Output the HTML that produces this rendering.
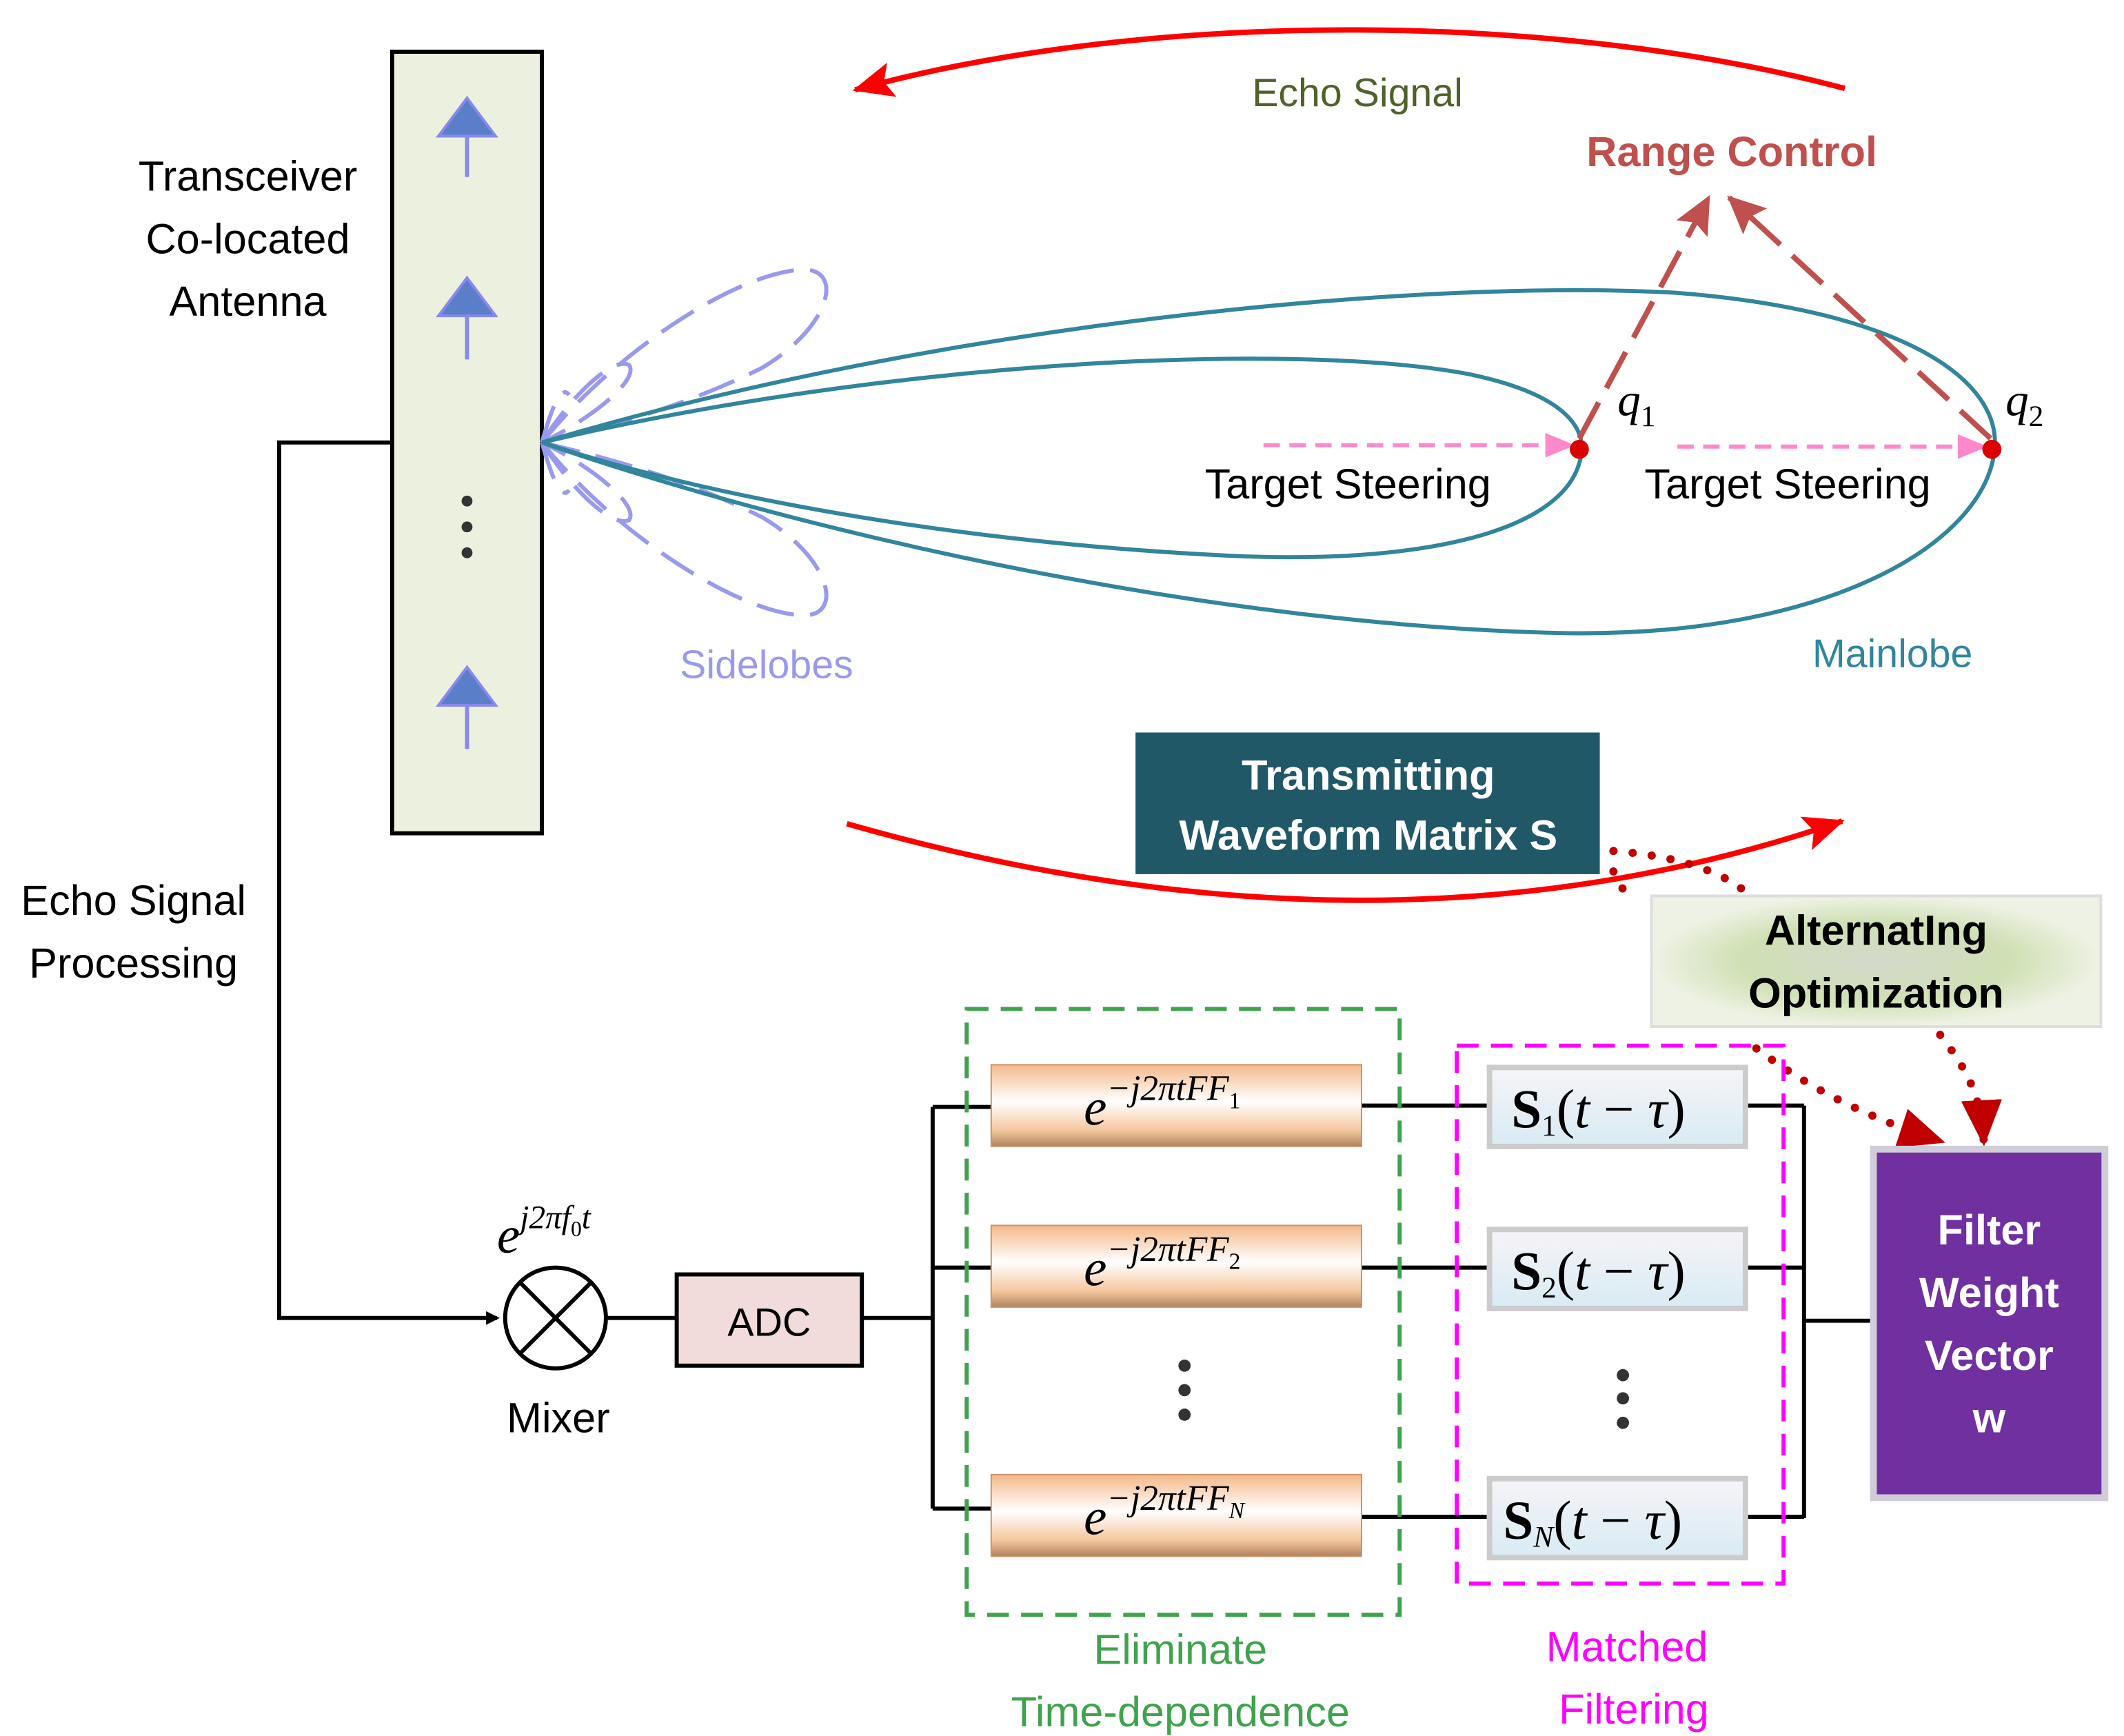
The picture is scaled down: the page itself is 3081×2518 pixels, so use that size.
<!DOCTYPE html>
<html><head><meta charset="utf-8"><style>html,body{margin:0;padding:0;background:#fff}svg{display:block}</style></head>
<body>
<svg width="3081" height="2518" viewBox="0 0 1560 1275" xmlns="http://www.w3.org/2000/svg" font-family="'Liberation Sans', sans-serif">
<defs>
<marker id="ab" markerWidth="10" markerHeight="10" refX="8" refY="5" orient="auto" markerUnits="userSpaceOnUse" viewBox="0 0 10 10"><path d="M0,0 L10,5 L0,10 z" fill="#000"/></marker>
<marker id="ar" markerWidth="32" markerHeight="26" refX="28" refY="13" orient="auto" markerUnits="userSpaceOnUse"><path d="M0,0 L30,13 L0,26 L6,13 z" fill="#f00"/></marker>
<marker id="abr" markerWidth="28" markerHeight="26" refX="26" refY="13" orient="auto" markerUnits="userSpaceOnUse"><path d="M0,0 L28,13 L0,26 L5,13 z" fill="#c0504d"/></marker>
<marker id="ap" markerWidth="22" markerHeight="18" refX="20" refY="9" orient="auto" markerUnits="userSpaceOnUse"><path d="M0,0 L22,9 L0,18 z" fill="#ff88cc"/></marker>
<marker id="ad" markerWidth="34" markerHeight="30" refX="30" refY="15" orient="auto" markerUnits="userSpaceOnUse"><path d="M0,0 L34,15 L0,30 z" fill="#c00000"/></marker>
<linearGradient id="og" x1="0" y1="0" x2="0" y2="1"><stop offset="0" stop-color="#f5b889"/><stop offset="0.45" stop-color="#fff"/><stop offset="0.8" stop-color="#f5c79e"/><stop offset="1" stop-color="#b0845e"/></linearGradient>
<linearGradient id="bg" x1="0" y1="0" x2="0" y2="1"><stop offset="0" stop-color="#f6f4f8"/><stop offset="1" stop-color="#d8ebf3"/></linearGradient>
<radialGradient id="gg"><stop offset="0" stop-color="#d4d9cc"/><stop offset="0.6" stop-color="#cfe0b4"/><stop offset="1" stop-color="#eef2e4"/></radialGradient>
</defs>

<rect x="288" y="38" width="110" height="574" fill="#ebf1de" stroke="#000" stroke-width="3"/>
<g stroke="#8888ee" stroke-width="3" fill="none">
<line x1="343" y1="130" x2="343" y2="76"/><line x1="343" y1="264" x2="343" y2="208"/><line x1="343" y1="550" x2="343" y2="494"/></g>
<g fill="#5a7fc8" stroke="#8888ee" stroke-width="2"><path d="M322,100 L343,72 L364,100 z"/><path d="M322,232 L343,204 L364,232 z"/><path d="M322,518 L343,490 L364,518 z"/></g>
<g fill="#333"><circle cx="343" cy="368" r="4"/><circle cx="343" cy="387" r="4"/><circle cx="343" cy="406" r="4"/></g>
<text x="182" y="140" font-size="31" text-anchor="middle">Transceiver</text>
<text x="182" y="186" font-size="31" text-anchor="middle">Co-located</text>
<text x="182" y="232" font-size="31" text-anchor="middle">Antenna</text>

<g stroke="#9999ee" stroke-width="3" fill="none" stroke-dasharray="28,12">
<path d="M398,325 C450,260 540,200 590,198 C620,198 610,240 560,270 C500,300 440,315 398,325"/>
<path d="M398,325 C450,390 540,450 590,452 C620,452 610,410 560,380 C500,350 440,335 398,325"/>
<path d="M398,325 C420,290 450,262 462,268 C470,280 430,310 398,325"/>
<path d="M398,325 C420,360 450,388 462,382 C470,370 430,340 398,325"/>
<path d="M398,325 C405,300 412,282 418,290"/><path d="M398,325 C405,350 412,368 418,360"/>
</g>
<text x="563" y="498" font-size="29" fill="#9999ee" text-anchor="middle">Sidelobes</text>

<g stroke="#31859c" stroke-width="3" fill="none">
<path d="M398,325 C700,235 1050,205 1230,215 C1400,228 1470,280 1465,330 C1458,400 1340,468 1150,465 C900,460 600,395 398,325"/>
<path d="M398,325 C650,265 950,250 1080,275 C1150,290 1168,315 1160,340 C1145,392 1040,415 900,408 C700,398 520,365 398,325"/>
</g>
<text x="1390" y="490" font-size="29" fill="#31859c" text-anchor="middle">Mainlobe</text>

<line x1="928" y1="327" x2="1155" y2="327" stroke="#ff88cc" stroke-width="3" stroke-dasharray="12,7" marker-end="url(#ap)"/>
<line x1="1232" y1="328" x2="1458" y2="328" stroke="#ff88cc" stroke-width="3" stroke-dasharray="12,7" marker-end="url(#ap)"/>
<circle cx="1160" cy="330" r="7" fill="#d00"/><circle cx="1463" cy="330" r="7" fill="#d00"/>
<text x="990" y="366" font-size="31" text-anchor="middle">Target Steering</text>
<text x="1313" y="366" font-size="31" text-anchor="middle">Target Steering</text>
<text x="1188" y="305" font-size="34" font-style="italic" font-family="'Liberation Serif', serif">q<tspan font-size="22" font-style="normal" dy="8">1</tspan></text>
<text x="1473" y="305" font-size="34" font-style="italic" font-family="'Liberation Serif', serif">q<tspan font-size="22" font-style="normal" dy="8">2</tspan></text>

<line x1="1160" y1="322" x2="1255" y2="145" stroke="#c0504d" stroke-width="4" stroke-dasharray="30,12" marker-end="url(#abr)"/>
<line x1="1462" y1="322" x2="1270" y2="145" stroke="#c0504d" stroke-width="4" stroke-dasharray="30,12" marker-end="url(#abr)"/>
<text x="1272" y="122" font-size="31" font-weight="bold" fill="#c0504d" text-anchor="middle">Range Control</text>

<path d="M1355,65 C1150,10 850,5 628,66" stroke="#f00" stroke-width="4" fill="none" marker-end="url(#ar)"/>
<text x="997" y="78" font-size="29" fill="#4f6228" text-anchor="middle">Echo Signal</text>
<path d="M622,605 C850,670 1100,690 1353,603" stroke="#f00" stroke-width="4" fill="none" marker-end="url(#ar)"/>

<rect x="834" y="538" width="341" height="104" fill="#215868"/>
<text x="1005" y="580" font-size="31" font-weight="bold" fill="#fff" text-anchor="middle">Transmitting</text>
<text x="1005" y="624" font-size="31" font-weight="bold" fill="#fff" text-anchor="middle">Waveform Matrix S</text>

<path d="M1185,625 C1250,630 1290,650 1300,680" stroke="#c00000" stroke-width="6" stroke-dasharray="0.1,14" stroke-linecap="round" fill="none"/>
<path d="M1185,640 C1190,650 1195,660 1200,660" stroke="#c00000" stroke-width="6" stroke-dasharray="0.1,14" stroke-linecap="round" fill="none"/>
<path d="M1290,770 C1330,800 1370,820 1425,838" stroke="#c00000" stroke-width="6" stroke-dasharray="0.1,14" stroke-linecap="round" fill="none" marker-end="url(#ad)"/>
<path d="M1425,760 C1440,780 1455,800 1457,838" stroke="#c00000" stroke-width="6" stroke-dasharray="0.1,14" stroke-linecap="round" fill="none" marker-end="url(#ad)"/>

<rect x="1213" y="658" width="330" height="96" fill="url(#gg)" stroke="#ddd" stroke-width="2"/>
<text x="1378" y="694" font-size="31" font-weight="bold" text-anchor="middle">AlternatIng</text>
<text x="1378" y="740" font-size="31" font-weight="bold" text-anchor="middle">Optimization</text>

<text x="98" y="672" font-size="31" text-anchor="middle">Echo Signal</text>
<text x="98" y="718" font-size="31" text-anchor="middle">Processing</text>
<polyline points="288,325 205,325 205,968 365,968" stroke="#000" stroke-width="3" fill="none" marker-end="url(#ab)"/>
<circle cx="408" cy="968" r="37" fill="#fff" stroke="#000" stroke-width="3"/>
<line x1="382" y1="942" x2="434" y2="994" stroke="#000" stroke-width="3"/><line x1="434" y1="942" x2="382" y2="994" stroke="#000" stroke-width="3"/>
<text x="365" y="920" font-size="38" font-style="italic" font-family="'Liberation Serif', serif">e<tspan font-size="24" dy="-18">j2πf</tspan><tspan font-size="16" dy="6" font-style="normal">0</tspan><tspan font-size="24" dy="-6">t</tspan></text>
<text x="410" y="1052" font-size="31" text-anchor="middle">Mixer</text>
<line x1="445" y1="968" x2="497" y2="968" stroke="#000" stroke-width="3"/>
<rect x="497" y="936" width="136" height="67" fill="#f2dcdb" stroke="#000" stroke-width="3"/>
<text x="565" y="981" font-size="29" text-anchor="middle">ADC</text>
<g stroke="#000" stroke-width="3" fill="none">
<line x1="633" y1="968" x2="685" y2="968"/>
<line x1="685" y1="813" x2="685" y2="1108"/>
<line x1="685" y1="813" x2="728" y2="813"/><line x1="685" y1="931" x2="728" y2="931"/><line x1="685" y1="1108" x2="728" y2="1108"/>
<line x1="1000" y1="812" x2="1092" y2="812"/><line x1="1000" y1="931" x2="1092" y2="931"/><line x1="1000" y1="1114" x2="1092" y2="1114"/>
<line x1="1282" y1="812" x2="1325" y2="812"/><line x1="1282" y1="931" x2="1325" y2="931"/><line x1="1282" y1="1114" x2="1325" y2="1114"/>
<line x1="1325" y1="812" x2="1325" y2="1115"/><line x1="1325" y1="970" x2="1378" y2="970"/>
</g>
<g stroke="#c8956a" stroke-width="1">
<rect x="728" y="782" width="272" height="60" fill="url(#og)"/>
<rect x="728" y="900" width="272" height="60" fill="url(#og)"/>
<rect x="728" y="1083" width="272" height="60" fill="url(#og)"/>
</g>
<g font-family="'Liberation Serif', serif" font-style="italic">
<text x="796" y="826" font-size="38">e<tspan font-size="26" dy="-18">−j2πtFF</tspan><tspan font-size="17" dy="6" font-style="normal">1</tspan></text>
<text x="796" y="944" font-size="38">e<tspan font-size="26" dy="-18">−j2πtFF</tspan><tspan font-size="17" dy="6" font-style="normal">2</tspan></text>
<text x="796" y="1127" font-size="38">e<tspan font-size="26" dy="-18">−j2πtFF</tspan><tspan font-size="17" dy="6">N</tspan></text>
</g>
<g stroke="#ccc" stroke-width="4">
<rect x="1094" y="784" width="188" height="58" fill="url(#bg)"/>
<rect x="1094" y="903" width="188" height="58" fill="url(#bg)"/>
<rect x="1094" y="1086" width="188" height="58" fill="url(#bg)"/>
</g>
<g font-family="'Liberation Serif', serif" font-size="40">
<text x="1110" y="828"><tspan font-weight="bold">S</tspan><tspan font-size="22" dy="6">1</tspan><tspan dy="-6">(</tspan><tspan font-style="italic">t</tspan> − <tspan font-style="italic">τ</tspan>)</text>
<text x="1110" y="947"><tspan font-weight="bold">S</tspan><tspan font-size="22" dy="6">2</tspan><tspan dy="-6">(</tspan><tspan font-style="italic">t</tspan> − <tspan font-style="italic">τ</tspan>)</text>
<text x="1104" y="1130"><tspan font-weight="bold">S</tspan><tspan font-size="22" dy="6" font-style="italic">N</tspan><tspan dy="-6">(</tspan><tspan font-style="italic">t</tspan> − <tspan font-style="italic">τ</tspan>)</text>
</g>
<g fill="#333"><circle cx="870" cy="1003" r="4.5"/><circle cx="870" cy="1021" r="4.5"/><circle cx="870" cy="1039" r="4.5"/>
<circle cx="1192" cy="1010" r="4.5"/><circle cx="1192" cy="1027" r="4.5"/><circle cx="1192" cy="1045" r="4.5"/></g>

<rect x="710" y="741" width="318" height="445" fill="none" stroke="#3fa34d" stroke-width="3" stroke-dasharray="16,9"/>
<rect x="1070" y="768" width="240" height="395" fill="none" stroke="#ff00ff" stroke-width="3" stroke-dasharray="16,9"/>
<text x="867" y="1222" font-size="31" fill="#3fa34d" text-anchor="middle">Eliminate</text>
<text x="867" y="1268" font-size="31" fill="#3fa34d" text-anchor="middle">Time-dependence</text>
<text x="1195" y="1220" font-size="31" fill="#ff00ff" text-anchor="middle">Matched</text>
<text x="1200" y="1266" font-size="31" fill="#ff00ff" text-anchor="middle">Filtering</text>

<rect x="1376" y="844" width="170" height="256" fill="#7030a0" stroke="#d0ccd8" stroke-width="5"/>
<g font-size="31" font-weight="bold" fill="#fff" text-anchor="middle">
<text x="1461" y="914">Filter</text><text x="1461" y="960">Weight</text><text x="1461" y="1006">Vector</text><text x="1461" y="1052">w</text></g>
</svg>
</body></html>
